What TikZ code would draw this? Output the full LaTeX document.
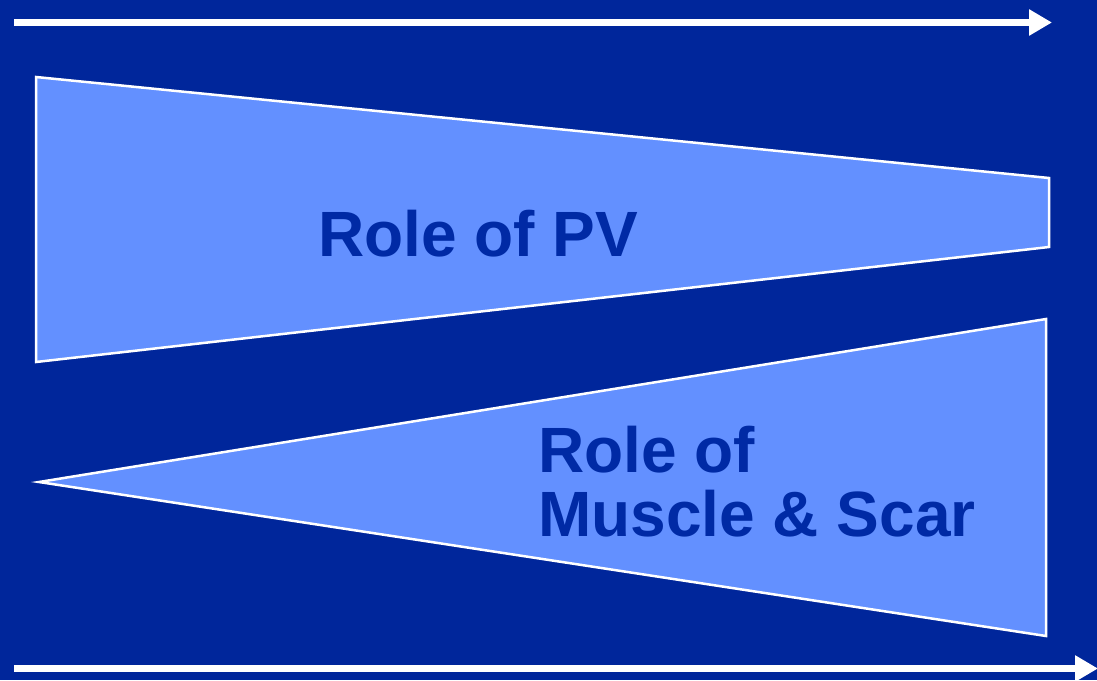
\documentclass[tikz,border=0pt]{standalone}
\usepackage{fontspec}
\setmainfont{Liberation Sans}
\usetikzlibrary{arrows.meta}

\definecolor{navy}{RGB}{0,38,155}
\definecolor{wedgefill}{RGB}{99,144,255}
\definecolor{labelblue}{RGB}{0,42,165}

\tikzset{
  timeline/.style={draw=white, line width=7.5pt,
    -{Triangle[length=23pt,width=25pt]}},
  wedge/.style={draw=white, fill=wedgefill, line width=2.5pt, line join=miter},
  biglabel/.style={inner sep=0pt, anchor=base west, text=labelblue,
    font=\fontsize{64}{65}\selectfont\bfseries}
}

\begin{document}
\begin{tikzpicture}[x=1pt,y=-1pt]
  % canvas
  \fill[navy] (0,0) rectangle (1097,680);
  \useasboundingbox (0,0) rectangle (1097,680);

  % end points of the two time axes
  \coordinate (topstart) at (14,22.5);
  \coordinate (topend)   at (1052,22.5);
  \coordinate (botstart) at (14,668.5);
  \coordinate (botend)   at (1098,668.5);

  \begin{scope}
    \clip (0,0) rectangle (1097,680);
    \draw[timeline] (topstart) -- (topend);
    \draw[timeline] (botstart) -- (botend);
  \end{scope}

  % narrowing wedge: contribution of PV
  \draw[wedge] (36,77) -- (1049,178) -- (1049,247) -- (36,362) -- cycle;

  % widening wedge: contribution of muscle and scar
  \draw[wedge] (39,482) -- (1046,319) -- (1046,636) -- cycle;

  \node[biglabel] (pv) at (318,256) {Role of PV};
  \node[biglabel] (ms1) at (538,472) {Role of};
  \node[biglabel] (ms2) at (538,536) {Muscle \& Scar};
\end{tikzpicture}
\end{document}
